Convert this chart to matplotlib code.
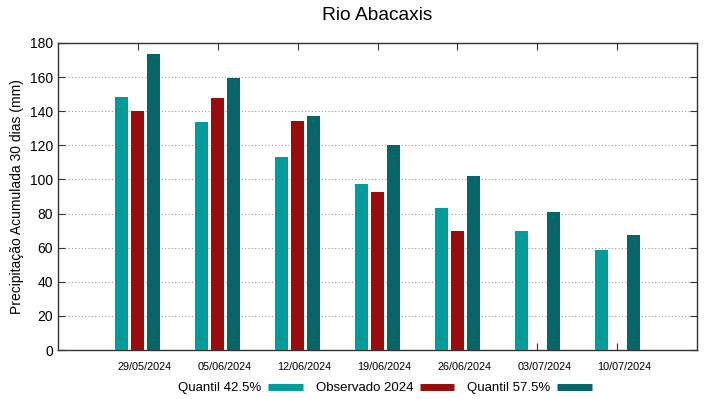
import matplotlib
matplotlib.use("Agg")
import matplotlib.pyplot as plt
import matplotlib.transforms as mtransforms
from matplotlib.lines import Line2D
import numpy as np

plt.rcParams['font.family'] = ['Liberation Sans', 'DejaVu Sans']

dates = ["29/05/2024", "05/06/2024", "12/06/2024", "19/06/2024",
         "26/06/2024", "03/07/2024", "10/07/2024"]
q425 = [148.2, 133.7, 113.0, 97.1, 83.1, 70.0, 58.6]
obs2024 = [140.1, 147.6, 134.1, 92.8, 69.6, np.nan, np.nan]
q575 = [173.7, 159.3, 137.2, 120.0, 102.2, 81.1, 67.6]
series_names = ["Quantil 42.5%", "Observado 2024", "Quantil 57.5%"]
colors = ["#009b9b", "#990c0c", "#046666"]

fig = plt.figure(figsize=(7.19, 3.99), dpi=100)
ax = fig.add_axes([58/719, 49/399, (697-58)/719, (350-43)/399])

x = np.arange(len(dates))
w = 0.165
for off, vals, c in zip([-0.2, 0.0, 0.2], [q425, obs2024, q575], colors):
    ax.bar(x + off, vals, width=w, color=c, edgecolor='none', zorder=3)

ax.set_xlim(-1, 7)
ax.set_ylim(0, 180)
ax.set_yticks(np.arange(0, 181, 20))
ax.set_xticks(x)
ax.set_xticklabels(dates, fontsize=7.8)
ax.tick_params(axis='y', labelsize=10, direction='in', length=5, left=True, right=True, width=0.8, color='#333333')
ax.tick_params(axis='x', direction='in', length=5, top=True, bottom=True, width=0.8, color='#333333', pad=9)
offset = mtransforms.ScaledTranslation(7/100, 0, fig.dpi_scale_trans)
for lab in ax.get_xticklabels():
    lab.set_transform(lab.get_transform() + offset)

ax.grid(axis='y', linestyle=(0, (1, 2)), color='#999999', linewidth=0.8, zorder=1)
for s in ax.spines.values():
    s.set_color('#333333')
    s.set_linewidth(1.0)

ax.set_ylabel("Precipitação Acumulada 30 dias (mm)", fontsize=10, labelpad=4)
fig.text(377.5/719, 1 - 16/399, "Rio Abacaxis", ha='center', va='center', fontsize=13.8)

handles = [Line2D([], [], color=c, lw=5, solid_capstyle='butt') for c in colors]
ax.legend(handles, series_names, ncol=3, loc='center', frameon=False,
          bbox_to_anchor=(385/719, 1 - 388/399), bbox_transform=fig.transFigure,
          markerfirst=False, handlelength=2.6, handletextpad=0.5,
          columnspacing=1.0, fontsize=9.5)

fig.savefig("out.png", dpi=100)
